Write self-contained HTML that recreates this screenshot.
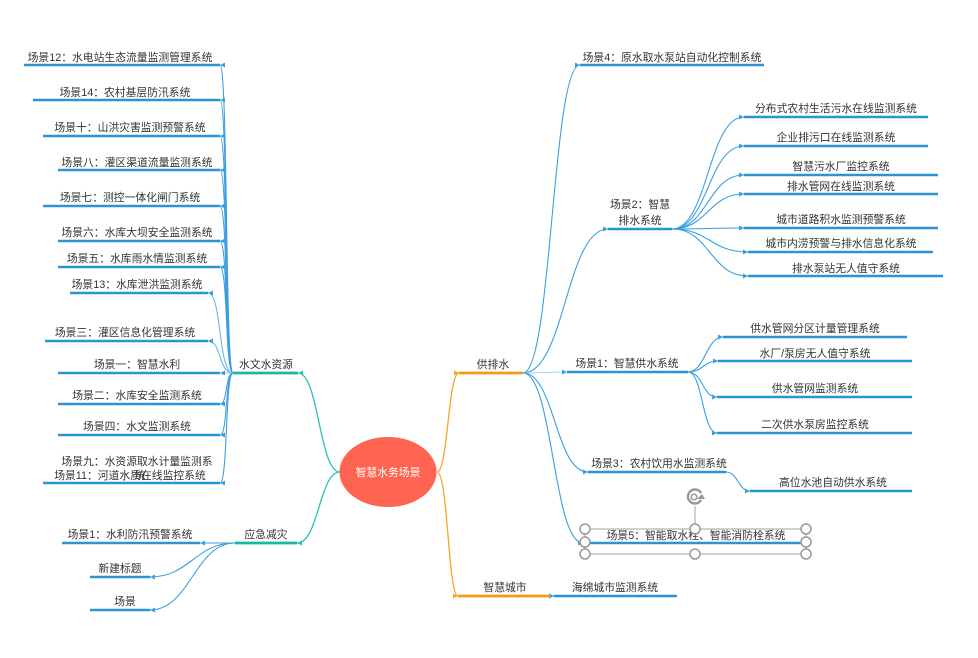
<!DOCTYPE html>
<html><head><meta charset="utf-8"><style>
html,body{margin:0;padding:0;background:#fff;}
svg{display:block;}
text{font-family:"Liberation Sans","Noto Sans CJK SC",sans-serif;font-size:10.8px;fill:#333;}
</style></head><body>
<svg width="978" height="658" viewBox="0 0 978 658" xmlns="http://www.w3.org/2000/svg">
<defs>
<marker id="ab" markerUnits="userSpaceOnUse" markerWidth="6" markerHeight="6" refX="5" refY="3" orient="auto"><path d="M0,0.5 L5,3 L0,5.5 Z" fill="#3a9fe0"/></marker>
<marker id="at" markerUnits="userSpaceOnUse" markerWidth="6" markerHeight="6" refX="5" refY="3" orient="auto"><path d="M0,0.5 L5,3 L0,5.5 Z" fill="#2cc0b5"/></marker>
<marker id="ao" markerUnits="userSpaceOnUse" markerWidth="6" markerHeight="6" refX="5" refY="3" orient="auto"><path d="M0,0.5 L5,3 L0,5.5 Z" fill="#f5a623"/></marker>
</defs>
<rect width="978" height="658" fill="#fff"/>

<!-- main connectors -->
<g fill="none" stroke-width="1.3">
<path d="M340,472 C319,472 319,373 298,373" stroke="#2cc0b5" marker-end="url(#at)"/>
<path d="M340,472 C319,472 319,543 297,543" stroke="#2cc0b5" marker-end="url(#at)"/>
<path d="M437,472 C448,472 448,373 459,373" stroke="#f5a623" marker-end="url(#ao)"/>
<path d="M437,472 C448,472 448,596 458,596" stroke="#f5a623" marker-end="url(#ao)"/>
</g>

<!-- left connectors -->
<g fill="none" stroke="#3a9fe0" stroke-width="1.1" marker-end="url(#ab)">
<path d="M233,373 C225,373 228,65 220,65"/>
<path d="M233,373 C225,373 228,100 220,100"/>
<path d="M233,373 C225,373 228,136 220,136"/>
<path d="M233,373 C225,373 228,170 220,170"/>
<path d="M233,373 C225,373 228,206 220,206"/>
<path d="M233,373 C225,373 228,241 220,241"/>
<path d="M233,373 C225,373 228,267 220,267"/>
<path d="M233,373 C218,373 222,293 208,293" stroke="#6cb8e8"/>
<path d="M233,373 C218,373 222,341 208,341" stroke="#6cb8e8"/>
<path d="M233,373 L220,373" stroke="#a8d4f0"/>
<path d="M233,373 C225,373 228,404 220,404"/>
<path d="M233,373 C225,373 228,435 220,435"/>
<path d="M233,373 C225,373 228,483 220,483"/>
<path d="M235,543 L200,543"/>
<path d="M235,543 C195,543 190,577 150,577"/>
<path d="M235,543 C195,543 190,610 150,610"/>
</g>

<!-- right connectors -->
<g fill="none" stroke="#3a9fe0" stroke-width="1.1" marker-end="url(#ab)">
<path d="M523,373 C552,373 552,65 580,65"/>
<path d="M523,373 C565,373 566,229 608,229"/>
<path d="M523,373 L567,372" stroke="#a8d4f0"/>
<path d="M523,373 C555,373 555,472 588,472"/>
<path d="M523,373 C553,373 553,543 583,543"/>
<path d="M550,596 L554,596"/>
<path d="M672,229 C708,229 708,117 744,117"/>
<path d="M672,229 C708,229 708,146 744,146"/>
<path d="M672,229 C708,229 708,175 744,175"/>
<path d="M672,229 C708,229 708,194 744,194"/>
<path d="M672,229 C708,229 708,228 744,228"/>
<path d="M672,229 C710,229 710,252 748,252"/>
<path d="M672,229 C710,229 710,276 748,276"/>
<path d="M688,372 C705,372 706,337 723,337"/>
<path d="M688,372 C703,372 703,361 718,361"/>
<path d="M688,372 C703,372 702,397 717,397"/>
<path d="M688,372 C703,372 702,433 717,433"/>
<path d="M726,472 C738,472 738,491 750,491"/>
</g>

<!-- underlines -->
<g stroke-width="2.4">
<line x1="233" y1="373" x2="298" y2="373" stroke="#1fb5a3" stroke-width="2.8"/>
<line x1="235" y1="543" x2="297" y2="543" stroke="#1fb5a3" stroke-width="2.8"/>
<line x1="459" y1="373" x2="523" y2="373" stroke="#f39c12" stroke-width="2.8"/>
<line x1="458" y1="596" x2="550" y2="596" stroke="#f39c12" stroke-width="2.8"/>
<g stroke="#2a94d6">
<line x1="24" y1="65" x2="220" y2="65"/>
<line x1="33" y1="100" x2="220" y2="100"/>
<line x1="43" y1="136" x2="220" y2="136"/>
<line x1="58" y1="170" x2="220" y2="170"/>
<line x1="43" y1="206" x2="220" y2="206"/>
<line x1="58" y1="241" x2="220" y2="241"/>
<line x1="58" y1="267" x2="220" y2="267"/>
<line x1="70" y1="293" x2="208" y2="293"/>
<line x1="45" y1="341" x2="208" y2="341"/>
<line x1="58" y1="373" x2="220" y2="373"/>
<line x1="58" y1="404" x2="220" y2="404"/>
<line x1="58" y1="435" x2="220" y2="435"/>
<line x1="43" y1="483" x2="220" y2="483"/>
<line x1="62" y1="543" x2="200" y2="543"/>
<line x1="90" y1="577" x2="150" y2="577"/>
<line x1="90" y1="610" x2="150" y2="610"/>
<line x1="580" y1="65" x2="764" y2="65"/>
<line x1="608" y1="229" x2="672" y2="229"/>
<line x1="567" y1="372" x2="688" y2="372"/>
<line x1="588" y1="472" x2="726" y2="472"/>
<line x1="583" y1="543" x2="803" y2="543"/>
<line x1="554" y1="596" x2="677" y2="596"/>
<line x1="744" y1="117" x2="928" y2="117"/>
<line x1="744" y1="146" x2="928" y2="146"/>
<line x1="744" y1="175" x2="938" y2="175"/>
<line x1="744" y1="194" x2="938" y2="194"/>
<line x1="744" y1="228" x2="938" y2="228"/>
<line x1="748" y1="252" x2="933" y2="252"/>
<line x1="748" y1="276" x2="943" y2="276"/>
<line x1="723" y1="337" x2="907" y2="337"/>
<line x1="718" y1="361" x2="912" y2="361"/>
<line x1="717" y1="397" x2="912" y2="397"/>
<line x1="717" y1="433" x2="912" y2="433"/>
<line x1="750" y1="491" x2="912" y2="491"/>
</g>
</g>

<!-- center -->
<ellipse cx="388" cy="472" rx="48.5" ry="35" fill="#ff6452"/>
<text x="388" y="476" text-anchor="middle" style="fill:#fff">智慧水务场景</text>

<!-- labels -->
<g text-anchor="middle">
<text x="266" y="368">水文水资源</text>
<text x="266" y="538">应急减灾</text>
<text x="493" y="368">供排水</text>
<text x="505" y="591">智慧城市</text>
<text x="615" y="591">海绵城市监测系统</text>

<text x="120" y="61">场景12：水电站生态流量监测管理系统</text>
<text x="125" y="96">场景14：农村基层防汛系统</text>
<text x="130" y="131">场景十：山洪灾害监测预警系统</text>
<text x="137" y="166">场景八：灌区渠道流量监测系统</text>
<text x="130" y="201">场景七：测控一体化闸门系统</text>
<text x="137" y="236">场景六：水库大坝安全监测系统</text>
<text x="137" y="262">场景五：水库雨水情监测系统</text>
<text x="137" y="288">场景13：水库泄洪监测系统</text>
<text x="125" y="336">场景三：灌区信息化管理系统</text>
<text x="137" y="368">场景一：智慧水利</text>
<text x="137" y="399">场景二：水库安全监测系统</text>
<text x="137" y="430">场景四：水文监测系统</text>
<text x="137" y="465">场景九：水资源取水计量监测系</text>
<text x="130" y="479">场景11：河道水质在线监控系统</text>
<text x="140" y="479">统</text>

<text x="130" y="538">场景1：水利防汛预警系统</text>
<text x="120" y="572">新建标题</text>
<text x="125" y="605">场景</text>

<text x="672" y="61">场景4：原水取水泵站自动化控制系统</text>
<text x="640" y="208">场景2：智慧</text>
<text x="640" y="224">排水系统</text>
<text x="627" y="367">场景1：智慧供水系统</text>
<text x="659" y="467">场景3：农村饮用水监测系统</text>
<text x="696" y="539">场景5：智能取水栓、智能消防栓系统</text>

<text x="836" y="112">分布式农村生活污水在线监测系统</text>
<text x="836" y="141">企业排污口在线监测系统</text>
<text x="841" y="170">智慧污水厂监控系统</text>
<text x="841" y="190">排水管网在线监测系统</text>
<text x="841" y="223">城市道路积水监测预警系统</text>
<text x="841" y="247">城市内涝预警与排水信息化系统</text>
<text x="846" y="272">排水泵站无人值守系统</text>

<text x="815" y="332">供水管网分区计量管理系统</text>
<text x="815" y="357">水厂/泵房无人值守系统</text>
<text x="815" y="392">供水管网监测系统</text>
<text x="815" y="428">二次供水泵房监控系统</text>
<text x="833" y="486">高位水池自动供水系统</text>
</g>

<!-- selection box -->
<g fill="none" stroke="#a0a0a0" stroke-width="1">
<rect x="585" y="529" width="221" height="25"/>
<line x1="695" y1="506" x2="695" y2="529"/>
</g>
<g fill="#fff" stroke="#999" stroke-width="1.5">
<circle cx="585" cy="529" r="5"/>
<circle cx="695" cy="529" r="5"/>
<circle cx="806" cy="529" r="5"/>
<circle cx="585" cy="542" r="5"/>
<circle cx="806" cy="542" r="5"/>
<circle cx="585" cy="554" r="5"/>
<circle cx="695" cy="554" r="5"/>
<circle cx="806" cy="554" r="5"/>
</g>
<!-- rotate icon -->
<g fill="none" stroke="#999" stroke-width="2.4">
<path d="M701,500 A7,7 0 1 1 701,493"/>
<circle cx="694" cy="497" r="2.8" stroke-width="1.5"/>
</g>
<path d="M697,499 L705,499 L702,494 Z" fill="#999"/>
</svg>
</body></html>
